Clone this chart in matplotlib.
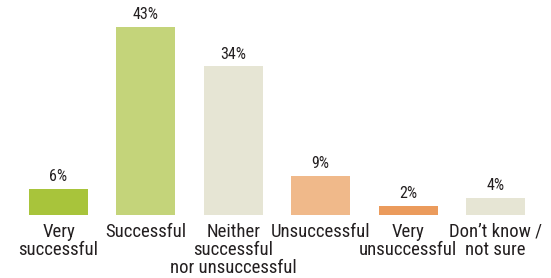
import matplotlib
matplotlib.use("Agg")
import matplotlib.pyplot as plt

categories = ["Very\nsuccessful", "Successful", "Neither\nsuccessful\nnor unsuccessful",
              "Unsuccessful", "Very\nunsuccessful", "Don\u2019t know /\nnot sure"]
values = [6, 43, 34, 9, 2, 4]
colors = ["#a8c43b", "#c4d47a", "#e6e5d4", "#f0b98a", "#eb9b5c", "#e6e5d4"]

plt.rcParams['font.family'] = ['Roboto Condensed', 'DejaVu Sans']

fig = plt.figure(figsize=(5.51, 2.78), dpi=100)
ax = fig.add_axes([0.0269, 0.2266, 0.9517, 0.7374])

x = list(range(len(values)))
bars = ax.bar(x, values, width=0.675, color=colors)

for xi, v in zip(x, values):
    ax.annotate(f"{v}%", (xi, v), xytext=(0, 3.5), textcoords="offset points",
                ha="center", va="bottom", fontsize=11.5, color="#231f20")

ax.set_xlim(-0.5, len(values) - 0.5)
ax.set_ylim(0, 46.9)
ax.set_xticks(x)
ax.set_xticklabels(categories, fontsize=13.5, color="#231f20", linespacing=1.02)
ax.tick_params(axis="x", length=0, pad=5.5)
ax.set_yticks([])
for s in ax.spines.values():
    s.set_visible(False)

fig.savefig("out.png", dpi=100)
